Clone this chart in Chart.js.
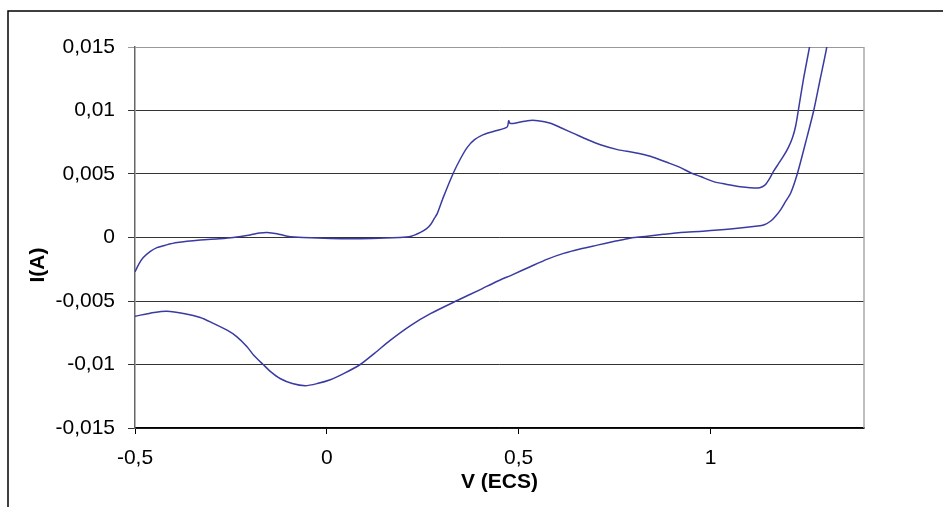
<!DOCTYPE html>
<html>
<head>
<meta charset="utf-8">
<script src="https://cdn.jsdelivr.net/npm/chart.js@4/dist/chart.umd.min.js"></script>
<style>
  html, body { margin: 0; padding: 0; background: #fff; }
  #wrap { width: 943px; height: 507px; }
</style>
</head>
<body>
<div id="wrap"><canvas id="cv" width="943" height="507"></canvas></div>
<script>
// --- data (V vs ECS, current in A) ---
const forwardV = [-0.5, -0.49, -0.479, -0.46, -0.443, -0.42, -0.39, -0.33, -0.28, -0.244, -0.2, -0.175, -0.156,
  -0.13, -0.103, -0.062, 0.06, 0.19, 0.22, 0.244, 0.26, 0.27, 0.28, 0.288, 0.304, 0.33, 0.35, 0.366, 0.385,
  0.408, 0.44, 0.47, 0.474, 0.477, 0.49, 0.523, 0.55, 0.583, 0.613, 0.643, 0.68, 0.713, 0.76, 0.8, 0.843,
  0.888, 0.922, 0.948, 0.974, 1.008, 1.04, 1.078, 1.123, 1.135, 1.144, 1.155, 1.164, 1.177, 1.19, 1.203,
  1.214, 1.222, 1.232, 1.243, 1.258, 1.275, 1.32];
const forwardI = [-0.0027, -0.0021, -0.0016, -0.0011, -0.0008, -0.0006, -0.0004, -0.0002, -0.0001, 0, 0.0002, 0.00035, 0.0004,
  0.0003, 0.0001, 0, -0.0001, 0, 0.0001, 0.0004, 0.0007, 0.001, 0.0015, 0.0019, 0.0032, 0.0051, 0.0063, 0.0071, 0.0077,
  0.0081, 0.0084, 0.0087, 0.0092, 0.009, 0.009, 0.0092, 0.0092, 0.009, 0.0086, 0.0082, 0.0077, 0.0073, 0.0069, 0.0067, 0.0064,
  0.0059, 0.0055, 0.0051, 0.0048, 0.0044, 0.0042, 0.004, 0.0039, 0.004, 0.0042, 0.0047, 0.0052, 0.0058, 0.0064, 0.0071,
  0.0079, 0.0088, 0.0106, 0.0126, 0.015, 0.018, 0.022];

const reverseV = [1.33, 1.303, 1.286, 1.269, 1.248, 1.227, 1.209, 1.195, 1.183, 1.17, 1.157, 1.14, 1.123, 1.052, 0.98,
  0.922, 0.877, 0.835, 0.8, 0.784, 0.75, 0.705, 0.66, 0.617, 0.575, 0.53, 0.486, 0.44, 0.4, 0.337, 0.27, 0.22,
  0.165, 0.125, 0.087, 0.045, 0.009, -0.025, -0.056, -0.09, -0.122, -0.145, -0.166, -0.19, -0.208, -0.235, -0.26,
  -0.3, -0.33, -0.37, -0.417, -0.45, -0.5];
const reverseI = [0.02, 0.015, 0.0125, 0.01, 0.0075, 0.0051, 0.0035, 0.0028, 0.0022, 0.0017, 0.0013, 0.001, 0.0009, 0.00067, 0.0005,
  0.0004, 0.00025, 0.0001, 0, -0.0001, -0.0003, -0.0006, -0.0009, -0.00125, -0.0017, -0.0023, -0.0029, -0.0035, -0.0041, -0.005, -0.006, -0.0069,
  -0.0081, -0.0091, -0.01, -0.0107, -0.0112, -0.0115, -0.01167, -0.0115, -0.0111, -0.0106, -0.01, -0.0093, -0.0086, -0.0078, -0.0073,
  -0.0067, -0.0063, -0.006, -0.0058, -0.0059, -0.0062];

const xTicks = [-0.5, 0, 0.5, 1];
const yTicks = [-0.015, -0.01, -0.005, 0, 0.005, 0.01, 0.015];

// comma as decimal separator, like the original
const fmt = (v) => String(Number(v.toFixed(3))).replace('.', ',');

const points = [];
forwardV.forEach((v, i) => points.push({ x: v, y: forwardI[i] }));
reverseV.forEach((v, i) => points.push({ x: v, y: reverseI[i] }));

const FONT = 'Liberation Sans, Arial, sans-serif';

// outer frame, right border of the plot and the rotated y title
const decor = {
  id: 'decor',
  beforeDraw(chart) {
    const c = chart.ctx;
    c.save();
    c.strokeStyle = '#000';
    c.lineWidth = 1.5;
    c.strokeRect(8, 11, 1000, 1000);
    c.restore();
  },
  afterDraw(chart) {
    const c = chart.ctx, a = chart.chartArea;
    c.save();
    c.strokeStyle = '#a8a8a8';
    c.lineWidth = 1.5;
    c.beginPath();
    c.moveTo(a.right, a.top);
    c.lineTo(a.right, a.bottom);
    c.stroke();
    c.translate(38, 265);
    c.rotate(-Math.PI / 2);
    c.fillStyle = '#000';
    c.font = 'bold 21px ' + FONT;
    c.textAlign = 'center';
    c.textBaseline = 'middle';
    c.fillText('I(A)', 0, 0);
    c.restore();
  }
};

new Chart(document.getElementById('cv'), {
  type: 'scatter',
  data: {
    datasets: [{
      data: points,
      showLine: true,
      borderColor: '#3a3aa2',
      borderWidth: 1.5,
      pointRadius: 0,
      tension: 0.25,
      fill: false
    }]
  },
  options: {
    responsive: false,
    animation: false,
    layout: { padding: { top: 47, right: 79, left: 0, bottom: 0 } },
    plugins: { legend: { display: false }, tooltip: { enabled: false } },
    scales: {
      x: {
        type: 'linear',
        min: -0.5,
        max: 1.4,
        afterFit: (s) => { s.height = 79; },
        afterBuildTicks: (s) => { s.ticks = xTicks.map(v => ({ value: v })); },
        grid: { drawOnChartArea: false, drawTicks: true, tickLength: 6, color: '#000' },
        border: { color: '#000', width: 1.5 },
        ticks: {
          callback: (v) => fmt(v),
          color: '#000',
          padding: 12,
          maxRotation: 0,
          font: { family: FONT, size: 21 }
        },
        title: {
          display: true,
          text: 'V (ECS)',
          color: '#000',
          padding: { top: 0, bottom: 12 },
          font: { family: FONT, size: 21, weight: 'bold' }
        }
      },
      y: {
        type: 'linear',
        min: -0.015,
        max: 0.015,
        afterFit: (s) => { s.width = 135; },
        afterBuildTicks: (s) => { s.ticks = yTicks.map(v => ({ value: v })); },
        grid: {
          drawTicks: true,
          tickLength: 7,
          color: (ctx) => (ctx.tick && ctx.tick.value === 0.015 ? '#999' : '#333'),
          lineWidth: 1
        },
        border: { color: '#666', width: 1.5 },
        ticks: {
          callback: (v) => fmt(v),
          color: '#000',
          padding: 13,
          font: { family: FONT, size: 21 }
        }
      }
    }
  },
  plugins: [decor]
});
</script>
</body>
</html>
